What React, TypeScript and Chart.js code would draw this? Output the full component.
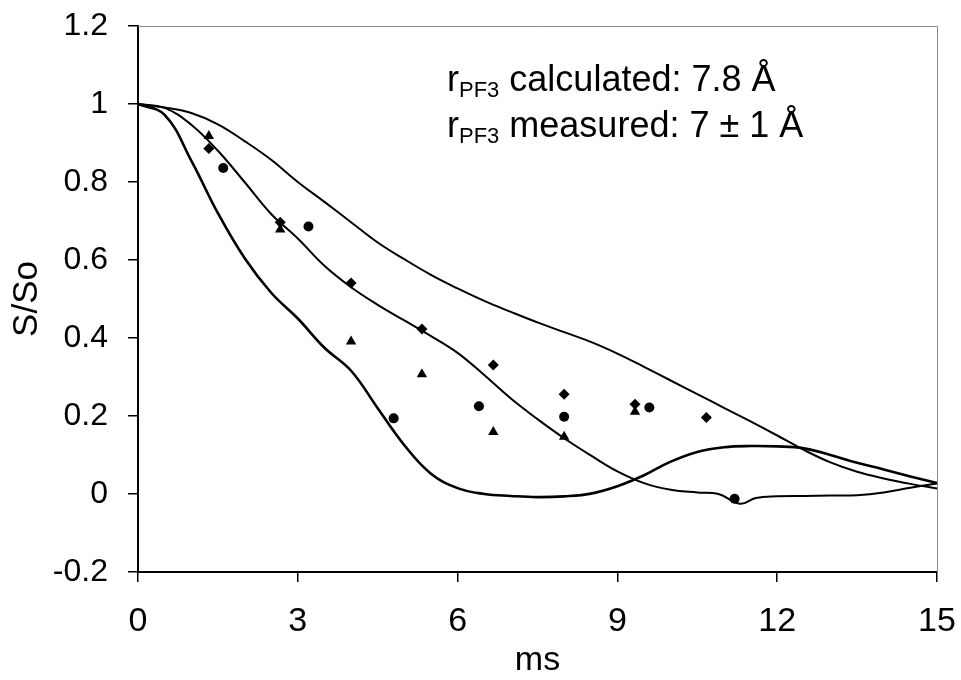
import React, { useEffect, useRef } from 'react';
import { Chart, registerables } from 'chart.js';

Chart.register(...registerables);

// ---- data ----
const curveTimes = [0, 0.5, 1, 1.5, 2, 2.5, 3, 3.5, 4, 4.5, 5, 5.5, 6, 6.5, 7, 7.5, 8, 8.5, 9, 9.5, 10, 10.5, 11, 11.5, 12, 12.5, 13, 13.5, 14, 14.5, 15];
const fastCurve = [1.0, 0.972, 0.855, 0.72, 0.605, 0.516, 0.45, 0.375, 0.316, 0.22, 0.125, 0.052, 0.015, 0.0, -0.005, -0.008, -0.006, 0.001, 0.02, 0.048, 0.083, 0.108, 0.12, 0.123, 0.122, 0.117, 0.1, 0.08, 0.063, 0.045, 0.028];
const slowCurve = [1.0, 0.991, 0.977, 0.948, 0.905, 0.857, 0.8, 0.749, 0.697, 0.645, 0.602, 0.562, 0.527, 0.495, 0.467, 0.44, 0.415, 0.39, 0.36, 0.326, 0.291, 0.256, 0.221, 0.186, 0.15, 0.113, 0.081, 0.057, 0.04, 0.026, 0.014];

const midCurveTimes = [0, 0.5, 1, 1.5, 2, 2.5, 3, 3.5, 4, 4.5, 5, 5.5, 6, 6.5, 7, 7.5, 8, 8.5, 9, 9.5, 10, 10.5, 10.9, 11.3, 11.6, 12, 12.5, 13, 13.5, 14, 14.5, 15];
const midCurve = [1.0, 0.99, 0.947, 0.88, 0.8, 0.718, 0.655, 0.585, 0.53, 0.485, 0.445, 0.405, 0.362, 0.305, 0.245, 0.192, 0.143, 0.099, 0.058, 0.028, 0.011, 0.004, 0.0, -0.025, -0.01, -0.006, -0.005, -0.004, -0.003, 0.004, 0.016, 0.027];

const diamondTimes = [1.33, 2.67, 4.0, 5.33, 6.67, 8.0, 9.33, 10.67];
const diamondValues = [0.886, 0.697, 0.541, 0.423, 0.331, 0.256, 0.23, 0.196];
const triangleTimes = [1.33, 2.67, 4.0, 5.33, 6.67, 8.0, 9.33];
const triangleValues = [0.918, 0.678, 0.391, 0.307, 0.159, 0.147, 0.211];
const circleTimes = [1.6, 3.2, 4.8, 6.4, 8.0, 9.6, 11.2];
const circleValues = [0.836, 0.686, 0.194, 0.225, 0.198, 0.222, -0.012];

const xMin = 0;
const xMax = 15;
const xStep = 3;
const yMin = -0.2;
const yMax = 1.2;
const yStep = 0.2;

const xTitle = 'ms';
const yTitle = 'S/So';
const noteLines = [
  { pre: 'r', sub: 'PF3', post: ' calculated: 7.8 Å' },
  { pre: 'r', sub: 'PF3', post: ' measured: 7 ± 1 Å' },
];

const FONT = "Arial, 'Liberation Sans', sans-serif";

const pts = (xs: number[], ys: number[]) => xs.map((x, i) => ({ x, y: ys[i] }));

const framePlugin = {
  id: 'frame',
  beforeDatasetsDraw(chart: any) {
    const { ctx, chartArea } = chart;
    ctx.save();
    ctx.strokeStyle = '#8a8a8a';
    ctx.lineWidth = 1;
    ctx.beginPath();
    ctx.moveTo(chartArea.left, chartArea.top + 0.5);
    ctx.lineTo(chartArea.right + 0.5, chartArea.top + 0.5);
    ctx.lineTo(chartArea.right + 0.5, chartArea.bottom);
    ctx.stroke();
    ctx.restore();
  },
};

const notePlugin = {
  id: 'note',
  afterDraw(chart: any) {
    const { ctx } = chart;
    ctx.save();
    ctx.fillStyle = '#000';
    ctx.textBaseline = 'alphabetic';
    ctx.textAlign = 'left';
    const startX = 447;
    const baselines = [91, 137];
    noteLines.forEach((ln, i) => {
      let x = startX;
      const y = baselines[i];
      ctx.font = `36px ${FONT}`;
      ctx.fillText(ln.pre, x, y);
      x += ctx.measureText(ln.pre).width;
      ctx.font = `22px ${FONT}`;
      ctx.fillText(ln.sub, x, y + 6);
      x += ctx.measureText(ln.sub).width;
      ctx.font = `36px ${FONT}`;
      ctx.fillText(ln.post, x, y);
    });
    ctx.restore();
  },
};

const zeroPad = (s: any) => {
  s.paddingTop = 0;
  s.paddingBottom = 0;
  s.paddingLeft = 0;
  s.paddingRight = 0;
};

export default function App() {
  const canvasRef = useRef<HTMLCanvasElement | null>(null);

  useEffect(() => {
    const canvas = canvasRef.current;
    if (!canvas) return;
    const lineDs = (xs: number[], ys: number[], w: number) => ({
      type: 'line' as const,
      data: pts(xs, ys),
      borderColor: '#000',
      backgroundColor: '#000',
      borderWidth: w,
      pointRadius: 0,
      fill: false,
      tension: 0.4,
      showLine: true,
      clip: false as any,
    });
    const markDs = (xs: number[], ys: number[], style: string, r: number) => ({
      type: 'scatter' as const,
      data: pts(xs, ys),
      pointStyle: style,
      pointRadius: r,
      pointBackgroundColor: '#000',
      pointBorderColor: '#000',
      pointBorderWidth: 0,
      showLine: false,
      clip: false as any,
    });

    const chart = new Chart(canvas, {
      type: 'scatter',
      data: {
        datasets: [
          lineDs(curveTimes, slowCurve, 2) as any,
          lineDs(midCurveTimes, midCurve, 2) as any,
          lineDs(curveTimes, fastCurve, 2.6) as any,
          markDs(diamondTimes, diamondValues, 'rectRot', 5.5) as any,
          markDs(triangleTimes, triangleValues, 'triangle', 6) as any,
          markDs(circleTimes, circleValues, 'circle', 5) as any,
        ],
      },
      options: {
        animation: false,
        responsive: false,
        maintainAspectRatio: false,
        events: [],
        layout: { padding: { top: 26, right: 24, left: 0, bottom: 0 } },
        plugins: {
          legend: { display: false },
          tooltip: { enabled: false },
          title: { display: false },
        },
        scales: {
          x: {
            type: 'linear',
            min: xMin,
            max: xMax,
            afterFit: (s: any) => { s.height = 108; zeroPad(s); },
            ticks: {
              stepSize: xStep,
              color: '#000',
              padding: 19,
              font: { family: FONT, size: 34, lineHeight: 1.2 },
              callback: (v: any) => String(Math.round(Number(v) * 10) / 10),
            },
            grid: {
              drawOnChartArea: false,
              drawTicks: true,
              tickLength: 10,
              color: '#000',
              lineWidth: 1.5,
            },
            border: { display: true, color: '#000', width: 2 },
            title: {
              display: true,
              text: xTitle,
              color: '#000',
              font: { family: FONT, size: 34, lineHeight: 1 },
              padding: { top: 0, bottom: 2 },
            },
          },
          y: {
            type: 'linear',
            min: yMin,
            max: yMax,
            afterFit: (s: any) => { s.width = 138; zeroPad(s); },
            ticks: {
              stepSize: yStep,
              color: '#000',
              padding: 20,
              font: { family: FONT, size: 32, lineHeight: 1.2 },
              callback: (v: any) => String(Math.round(Number(v) * 10) / 10),
            },
            grid: {
              drawOnChartArea: false,
              drawTicks: true,
              tickLength: 10,
              color: '#000',
              lineWidth: 1.5,
            },
            border: { display: true, color: '#000', width: 2 },
            title: {
              display: true,
              text: yTitle,
              color: '#000',
              font: { family: FONT, size: 35, lineHeight: 1.2 },
              padding: { top: 6, bottom: 0 },
            },
          },
        },
      },
      plugins: [framePlugin, notePlugin],
    });
    return () => chart.destroy();
  }, []);

  return (
    <div style={{ position: 'fixed', left: 0, top: 0, width: 961, height: 680, background: '#fff' }}>
      <canvas ref={canvasRef} width={961} height={680} style={{ display: 'block', width: 961, height: 680 }} />
    </div>
  );
}
